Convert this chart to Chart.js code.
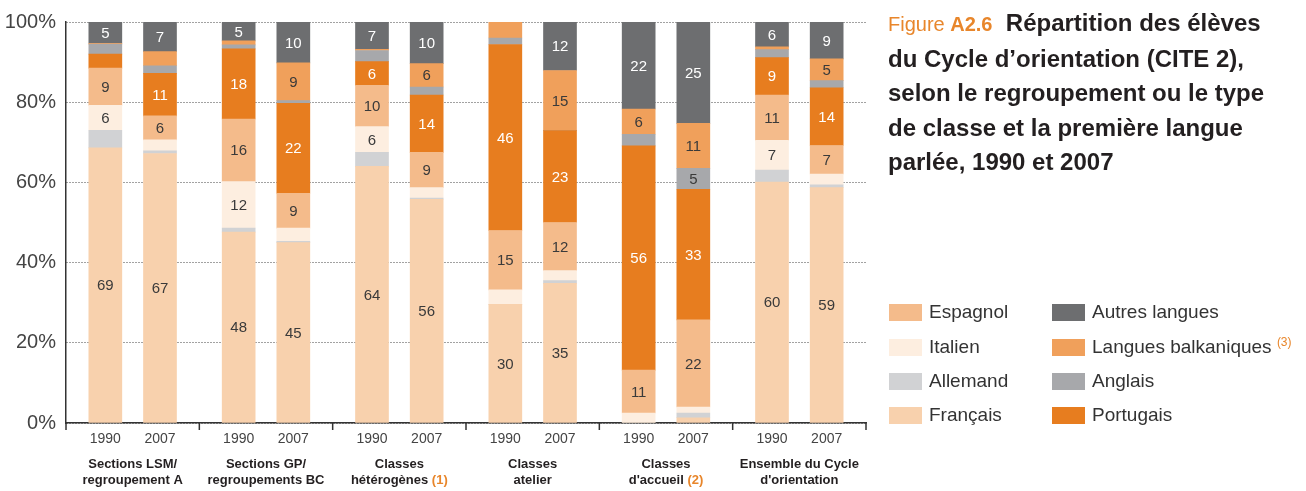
<!DOCTYPE html>
<html><head><meta charset="utf-8">
<script src="https://cdn.jsdelivr.net/npm/chart.js@4.4.1/dist/chart.umd.min.js"></script>
<style>
body{margin:0;background:#fff;}
#wrap{position:relative;width:1306px;height:491px;overflow:hidden;font-family:"Liberation Sans",Arial,sans-serif;background:#fff;}
#c{position:absolute;left:0;top:0;}
#title{position:absolute;left:888px;top:6px;font-size:24px;line-height:34.5px;font-weight:bold;color:#231f20;white-space:nowrap;}
.fig{color:#e8862b;font-size:20px;font-weight:normal;}
.fignum{color:#e8862b;font-size:20px;font-weight:bold;}
.leg{position:absolute;font-size:19px;color:#333;white-space:nowrap;line-height:22px;}
.leg .note{color:#e8862b;font-size:12px;position:relative;top:-7px;line-height:12px;}
.sw{position:absolute;width:33px;height:17px;}
</style></head>
<body><div id="wrap"><canvas id="c" width="1306" height="491"></canvas>
<div id="title"><span class="fig">Figure </span><span class="fignum">A2.6</span>&nbsp; Répartition des élèves<br>du Cycle d’orientation (CITE 2),<br>selon le regroupement ou le type<br>de classe et la première langue<br>parlée, 1990 et 2007</div>
<div id="legend"></div>
</div>
<script>
// ---- data ----
const GROUPS = [
  ['Sections LSM/', 'regroupement A', ''],
  ['Sections GP/', 'regroupements BC', ''],
  ['Classes', 'hétérogènes', '(1)'],
  ['Classes', 'atelier', ''],
  ['Classes', "d'accueil", '(2)'],
  ['Ensemble du Cycle', "d'orientation", '']
];
const YEARS = ['1990', '2007'];
const Y_TICKS = [0, 20, 40, 60, 80, 100];

// stack order bottom -> top; 12 bars (group x year)
const FRANCAIS    = [68.6, 67.2, 47.6, 45.0, 64.0, 55.8, 29.6, 34.8, 0.0, 1.3, 60.1, 58.7];
const ALLEMAND    = [4.4, 0.7, 1.0, 0.3, 3.5, 0.3, 0.0, 0.7, 0.0, 1.2, 3.0, 0.7];
const ITALIEN     = [6.2, 2.7, 11.6, 3.3, 6.4, 2.6, 3.6, 2.5, 2.5, 1.5, 7.4, 2.7];
const ESPAGNOL    = [9.3, 6.0, 15.6, 8.7, 10.3, 8.8, 14.8, 12.0, 10.7, 21.7, 11.3, 7.1];
const PORTUGAIS   = [3.5, 10.6, 17.5, 22.4, 5.9, 14.3, 46.4, 22.9, 55.9, 32.6, 9.3, 14.4];
const ANGLAIS     = [2.5, 1.9, 1.0, 0.7, 2.8, 2.0, 1.6, 0.0, 2.9, 5.2, 2.0, 1.8];
const BALKANIQUES = [0.2, 3.5, 1.0, 9.4, 0.3, 5.8, 4.0, 15.0, 6.3, 11.2, 0.7, 5.4];
const AUTRES      = [5.3, 7.4, 4.7, 10.2, 6.8, 10.4, 0.0, 12.1, 21.7, 25.3, 6.2, 9.2];

const SERIES_NAMES = ['Français', 'Allemand', 'Italien', 'Espagnol', 'Portugais', 'Anglais', 'Langues balkaniques', 'Autres langues'];
const SERIES_VALUES = [FRANCAIS, ALLEMAND, ITALIEN, ESPAGNOL, PORTUGAIS, ANGLAIS, BALKANIQUES, AUTRES];
const COLORS = ['#f8d1ad', '#d1d2d4', '#fdeee0', '#f4bb8b', '#e77d1f', '#a7a8ab', '#f0a05b', '#6d6e70'];
const LABEL_COLORS = ['#3a3a3a', '#3a3a3a', '#3a3a3a', '#3a3a3a', '#ffffff', '#3a3a3a', '#3a3a3a', '#ffffff'];
const LEGEND_COLS = [['Espagnol', 'Italien', 'Allemand', 'Français'], ['Autres langues', 'Langues balkaniques', 'Anglais', 'Portugais']];

// ---- layout constants ----
const BAR_OFFSETS = [0.295, 0.705];
const FONT = '"Liberation Sans", Arial, sans-serif';
const POSITIONS = [];
GROUPS.forEach((g, gi) => BAR_OFFSETS.forEach(o => POSITIONS.push(gi + o)));

// ---- legend (HTML) ----
const legend = document.getElementById('legend');
const LEG_X = [[889, 929], [1052, 1092]];
const LEG_Y = [312, 347, 381, 415];
LEGEND_COLS.forEach((col, ci) => col.forEach((name, ri) => {
  const idx = SERIES_NAMES.indexOf(name);
  const sw = document.createElement('div');
  sw.className = 'sw';
  sw.style.left = LEG_X[ci][0] + 'px';
  sw.style.top = (LEG_Y[ri] - 8.5) + 'px';
  sw.style.background = COLORS[idx];
  legend.appendChild(sw);
  const t = document.createElement('div');
  t.className = 'leg';
  t.style.left = LEG_X[ci][1] + 'px';
  t.style.top = (LEG_Y[ri] - 11) + 'px';
  t.innerHTML = name + (name === 'Langues balkaniques' ? ' <span class="note">(3)</span>' : '');
  legend.appendChild(t);
}));

// ---- plugins ----
const segLabels = {
  id: 'segLabels',
  afterDatasetsDraw(chart) {
    const ctx = chart.ctx;
    ctx.save();
    ctx.font = '15px ' + FONT;
    ctx.textAlign = 'center';
    ctx.textBaseline = 'middle';
    chart.data.datasets.forEach((ds, di) => {
      const meta = chart.getDatasetMeta(di);
      meta.data.forEach((el, i) => {
        const v = ds.data[i].y;
        if (v < 4.5) return;
        ctx.fillStyle = LABEL_COLORS[di];
        ctx.fillText(String(Math.round(v)), el.x, (el.y + el.base) / 2 + 1);
      });
    });
    ctx.restore();
  }
};

const groupLabels = {
  id: 'groupLabels',
  afterDraw(chart) {
    const x = chart.scales.x, ctx = chart.ctx, b = chart.chartArea.bottom;
    ctx.save();
    ctx.strokeStyle = '#333';
    ctx.lineWidth = 1.5;
    for (let g = 0; g <= GROUPS.length; g++) {
      const px = x.getPixelForValue(g);
      ctx.beginPath();
      ctx.moveTo(px, b);
      ctx.lineTo(px, b + 7);
      ctx.stroke();
    }
    ctx.font = 'bold 13px ' + FONT;
    ctx.textBaseline = 'middle';
    ctx.textAlign = 'left';
    GROUPS.forEach((lines, g) => {
      const cx = x.getPixelForValue(g + 0.5);
      const w1 = ctx.measureText(lines[0]).width;
      ctx.fillStyle = '#231f20';
      ctx.fillText(lines[0], cx - w1 / 2, b + 41);
      const main = lines[1] + (lines[2] ? ' ' : '');
      const wm = ctx.measureText(main).width;
      const wn = lines[2] ? ctx.measureText(lines[2]).width : 0;
      const sx = cx - (wm + wn) / 2;
      ctx.fillText(main, sx, b + 57);
      if (lines[2]) {
        ctx.fillStyle = '#e8862b';
        ctx.fillText(lines[2], sx + wm, b + 57);
      }
    });
    ctx.restore();
  }
};

// ---- chart ----
const datasets = SERIES_NAMES.map((name, si) => ({
  label: name,
  data: SERIES_VALUES[si].map((v, i) => ({ x: POSITIONS[i], y: v })),
  backgroundColor: COLORS[si],
  borderWidth: 0,
  barThickness: 33
}));

new Chart(document.getElementById('c'), {
  type: 'bar',
  data: { datasets },
  options: {
    responsive: false,
    animation: false,
    layout: { padding: { top: 17, right: 440, left: 0, bottom: 0 } },
    plugins: { legend: { display: false }, tooltip: { enabled: false } },
    scales: {
      x: {
        type: 'linear', min: 0, max: GROUPS.length, stacked: true, offset: false,
        grid: { display: false, drawTicks: false },
        border: { display: true, color: '#333', width: 1.5 },
        afterBuildTicks: s => { s.ticks = POSITIONS.map(v => ({ value: v })); },
        afterFit: s => { s.height = 68; },
        ticks: {
          autoSkip: false, maxRotation: 0, padding: 8, color: '#444',
          font: { size: 14, family: FONT },
          callback: (v, i) => YEARS[i % YEARS.length]
        }
      },
      y: {
        type: 'linear', min: 0, max: 100, stacked: true,
        afterBuildTicks: s => { s.ticks = Y_TICKS.map(v => ({ value: v })); },
        afterFit: s => { s.width = 66; },
        grid: { color: '#444', lineWidth: 1, drawTicks: false, tickLength: 0 },
        border: { display: true, color: '#333', width: 1.5, dash: [1, 2] },
        ticks: {
          padding: 10, color: '#444',
          font: { size: 20, family: FONT },
          callback: v => v + '%'
        }
      }
    }
  },
  plugins: [segLabels, groupLabels]
});
</script>
</body></html>
